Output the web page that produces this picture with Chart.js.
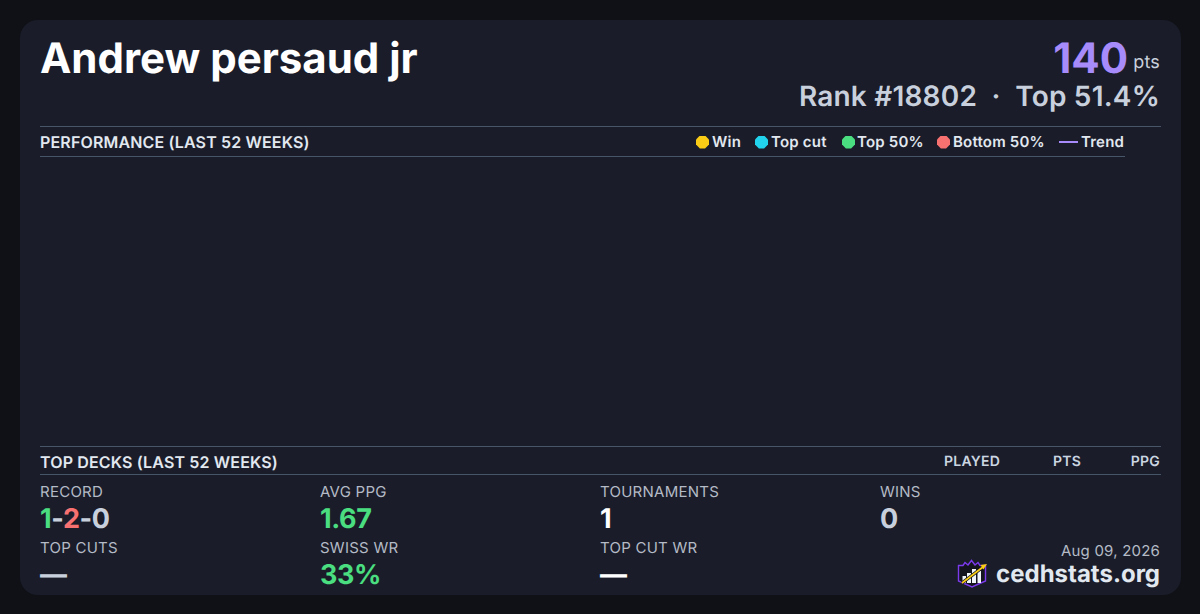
<!DOCTYPE html>
<html><head><meta charset="utf-8">
<script src="https://cdn.jsdelivr.net/npm/chart.js@4"></script>
<style>
*{box-sizing:border-box}
html,body{margin:0;padding:0;width:1200px;height:614px;overflow:hidden;background:#0f1116;font-family:Inter,sans-serif;text-rendering:geometricPrecision}
.card{position:absolute;left:20px;top:20px;width:1161px;height:575px;background:#1a1d29;border-radius:18px}
.t{position:absolute;white-space:nowrap;line-height:1}
.rule{position:absolute;height:1px;background:#475569}
.lab{font-size:15px;color:#b4bac6;font-weight:400;letter-spacing:.25px}
.val{font-size:27px;font-weight:700;color:#c9d0dd;letter-spacing:-.4px}
.hd{font-size:16px;font-weight:600;color:#e2e8f0;letter-spacing:.15px}
.th{font-size:14px;font-weight:600;color:#cbd5e1;letter-spacing:.25px}
.lg{position:absolute;top:133px;height:16px;display:flex;align-items:center;font-size:15px;font-weight:600;color:#e2e8f0;white-space:nowrap;letter-spacing:.2px}
.dot{width:13px;height:13px;margin-right:3px;position:relative;top:1px;clip-path:polygon(30% 0,70% 0,100% 30%,100% 70%,70% 100%,30% 100%,0 70%,0 30%)}
.ln{width:19px;height:2px;margin-right:3px;position:relative;top:1px}
#wrap{position:absolute;left:40px;top:157px;width:1085px;height:288px}
</style></head><body>
<div class="card"></div>
<div class="t" id="name" style="left:40px;top:38px;font-size:42px;font-weight:700;color:#fff"></div>
<div class="t" id="pts" style="right:72px;top:38px;font-size:42px;font-weight:700;color:#a78bfa"></div>
<div class="t" style="right:40px;top:54px;font-size:18px;color:#c9d0dd;letter-spacing:.2px">pts</div>
<div class="t" id="rank" style="right:40px;top:82px;font-size:28px;font-weight:600;color:#c9d0dd;letter-spacing:.2px"></div>
<div class="rule" style="left:40px;top:126px;width:1121px"></div>
<div class="t hd" style="left:40px;top:134px">PERFORMANCE (LAST 52 WEEKS)</div>
<div id="legend"></div>
<div class="rule" style="left:40px;top:156px;width:1085px"></div>
<div id="wrap"><canvas id="c"></canvas></div>
<div class="rule" style="left:40px;top:446px;width:1121px"></div>
<div class="t hd" style="left:40px;top:454px">TOP DECKS (LAST 52 WEEKS)</div>
<div class="t th" style="left:944px;top:455px">PLAYED</div>
<div class="t th" style="left:1053px;top:455px">PTS</div>
<div class="t th" style="right:40px;top:455px">PPG</div>
<div class="rule" style="left:40px;top:474px;width:1121px"></div>

<div class="t lab" style="left:40px;top:484px">RECORD</div>
<div class="t val" style="left:40px;top:505px"><span style="color:#4ade80">1</span>-<span style="color:#f87171">2</span>-0</div>
<div class="t lab" style="left:320px;top:484px">AVG PPG</div>
<div class="t val" style="left:320px;top:505px;color:#4ade80">1.67</div>
<div class="t lab" style="left:600px;top:484px">TOURNAMENTS</div>
<div class="t val" style="left:600px;top:505px;color:#fff">1</div>
<div class="t lab" style="left:880px;top:484px">WINS</div>
<div class="t val" style="left:880px;top:505px">0</div>
<div class="t lab" style="left:40px;top:540px">TOP CUTS</div>
<div class="t val" style="left:40px;top:561px">—</div>
<div class="t lab" style="left:320px;top:540px">SWISS WR</div>
<div class="t val" style="left:320px;top:561px;color:#4ade80">33%</div>
<div class="t lab" style="left:600px;top:540px">TOP CUT WR</div>
<div class="t val" style="left:600px;top:561px;color:#fff">—</div>
<div class="t" style="right:40px;top:543px;font-size:15px;color:#b4bac6;letter-spacing:.2px">Aug 09, 2026</div>
<svg style="position:absolute;left:952px;top:555px" width="40" height="38" viewBox="0 0 40 38">
<path d="M6.5 10.5 L11 10.5 L13 7.5 L16 10 L19.5 5.5 L23 10 L26 7.5 L28 10.5 L33.5 10.5 L33.5 26 L20 32 L6.5 26 Z" fill="#14141f" stroke="#7c3aed" stroke-width="1.4"/>
<rect x="10.5" y="21" width="3.5" height="7" fill="#f1f5f9"/><rect x="15" y="18" width="4" height="10" fill="#f1f5f9"/><rect x="20" y="14" width="4" height="14" fill="#f1f5f9"/><rect x="25.5" y="16" width="3.5" height="12" fill="#f1f5f9"/>
<path d="M10 28 L31 12" stroke="#14141f" stroke-width="3.4"/>
<path d="M10 28 L31 12" stroke="#facc15" stroke-width="1.8"/><path d="M35 9 L28.5 10 L31.5 14.5 Z" fill="#facc15"/>
</svg>
<div class="t" style="right:40px;top:562px;font-size:24px;font-weight:700;color:#e2e8f0">cedhstats.org</div>

<script>
const playerName = "Andrew persaud jr";
const points = "140";
const rankText = "Rank #18802 \u00a0·\u00a0 Top 51.4%";
const seriesNames = ["Win","Top cut","Top 50%","Bottom 50%","Trend"];
const seriesColors = ["#facc15","#22d3ee","#4ade80","#f87171","#a78bfa"];
const legendLefts = [696,755,842,937,1059];
// The reference's plot is empty: no weekly results are drawn.
const weeks = [];
const winValues = [];
const topCutValues = [];
const top50Values = [];
const bottom50Values = [];
const trendValues = [];
const seriesValues = [winValues,topCutValues,top50Values,bottom50Values,trendValues];

document.getElementById('name').textContent = playerName;
document.getElementById('pts').textContent = points;
document.getElementById('rank').textContent = rankText;

const chart = new Chart(document.getElementById('c'),{
  type:'line',
  data:{labels:weeks,datasets:seriesNames.map((n,i)=>({
    label:n,data:seriesValues[i],borderColor:seriesColors[i],backgroundColor:seriesColors[i],
    showLine:i===4,pointRadius:i===4?0:5
  }))},
  options:{responsive:true,maintainAspectRatio:false,animation:false,
    plugins:{legend:{display:false},tooltip:{enabled:false}},
    scales:{x:{display:false},y:{display:false}}}
});
const lg=document.getElementById('legend');
chart.data.datasets.forEach((d,i)=>{
  const e=document.createElement('div');e.className='lg';e.style.left=legendLefts[i]+'px';
  const m=document.createElement('span');m.className=i===4?'ln':'dot';m.style.background=d.borderColor;
  if(i===2)m.style.marginRight='2px';
  e.appendChild(m);e.appendChild(document.createTextNode(d.label));lg.appendChild(e);
});
</script>
</body></html>
